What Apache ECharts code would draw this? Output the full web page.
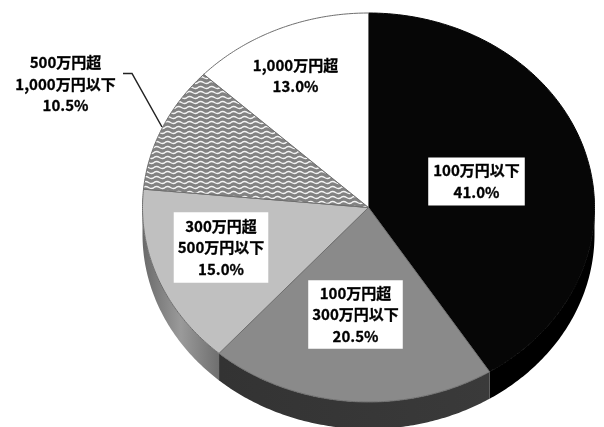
<!DOCTYPE html>
<html>
<head>
<meta charset="utf-8">
<style>html,body{margin:0;padding:0;background:#fff}#c{width:604px;height:427px}</style>
<script src="https://cdn.jsdelivr.net/npm/echarts@6/dist/echarts.min.js"></script>
</head>
<body>
<div id="c"></div>
<script>
// Data, clockwise from 12 o'clock
const categories = ['100万円以下', '100万円超\n300万円以下', '300万円超\n500万円以下', '500万円超\n1,000万円以下', '1,000万円超'];
const shares = [41.0, 20.5, 15.0, 10.5, 13.0];

// Geometry and style of the tilted pie
const cx = 368.5, cy = 207.5, rx = 226, ry = 194.5, depth = 27;
const topColors = ['#060606', '#8a8a8a', '#c0c0c0', null, '#ffffff'];
const wallColors = [
  ['#000000', '#000000'],
  ['#3a3a3a', '#333333'],
  ['#6f6f6f', '#9a9a9a', '#6a6a6a'],
  ['#888888', '#888888'],
  ['#888888', '#888888']
];
const labelCenters = [[476.5, 181.5], [355.5, 314.5], [221, 247.5], [65.5, 84], [295.5, 76]];
const labelBoxes = [[5, 2.5], [4, 2], [4, 3], [4, 2], [0, 0]];

function wavePattern() {
  const c = document.createElement('canvas');
  c.width = 11; c.height = 5;
  const g = c.getContext('2d');
  g.fillStyle = '#828282';
  g.fillRect(0, 0, 11, 5);
  g.strokeStyle = '#f4f4f4';
  g.lineWidth = 1.5;
  for (const off of [-5, 0, 5]) {
    g.beginPath();
    g.moveTo(-1, 3.2 + off);
    g.bezierCurveTo(1.5, 0.8 + off, 3, 0.8 + off, 5.5, 2.5 + off);
    g.bezierCurveTo(8, 4.2 + off, 9.5, 4.2 + off, 12, 1.8 + off);
    g.stroke();
  }
  return c;
}
const wave = { image: wavePattern(), repeat: 'repeat' };

function pointAt(angle, dy) {
  return [cx + rx * Math.sin(angle), cy + (dy || 0) - ry * Math.cos(angle)];
}
function arcPoints(a0, a1, dy) {
  const n = Math.max(2, Math.ceil(Math.abs(a1 - a0) * 90));
  const pts = [];
  for (let i = 0; i <= n; i++) pts.push(pointAt(a0 + (a1 - a0) * i / n, dy));
  return pts;
}
const total = shares.reduce((a, b) => a + b, 0);
const starts = [];
shares.reduce((acc, v, i) => { starts[i] = acc; return acc + v; }, 0);
const toAngle = v => v / total * Math.PI * 2;

function renderItem(params, api) {
  const i = params.dataIndex;
  const a0 = toAngle(api.value(1));
  const a1 = a0 + toAngle(api.value(0));
  const children = [];

  // Visible front wall: lower half of the ellipse
  const w0 = Math.max(a0, Math.PI / 2), w1 = Math.min(a1, Math.PI * 1.5);
  if (w1 > w0) {
    const upper = arcPoints(w0, w1, 0);
    const lower = arcPoints(w1, w0, depth);
    const ps = upper[0], pe = upper[upper.length - 1];
    const cols = wallColors[i];
    children.push({
      type: 'polygon',
      z2: 1,
      shape: { points: upper.concat(lower) },
      style: {
        fill: new echarts.graphic.LinearGradient(ps[0] > pe[0] ? 1 : 0, 0, ps[0] > pe[0] ? 0 : 1, 0,
          cols.map((color, k) => ({ offset: k / (cols.length - 1), color }))),
        stroke: null
      }
    });
  }
  // Top face
  children.push({
    type: 'polygon',
    z2: 2,
    shape: { points: [[cx, cy]].concat(arcPoints(a0, a1, 0)) },
    style: { fill: topColors[i] || wave, stroke: i === 0 ? '#060606' : '#6e6e6e', lineWidth: 1, lineJoin: 'round' }
  });
  // Label with white box
  const c = labelCenters[i], b = labelBoxes[i];
  children.push({
    type: 'text',
    z2: 5,
    x: c[0], y: c[1],
    style: {
      text: categories[i] + '\n' + api.value(0).toFixed(1) + '%',
      font: 'bold 15px "Noto Sans CJK JP"',
      lineHeight: 21.5,
      fill: '#000',
      stroke: '#000',
      lineWidth: 0.3,
      align: 'center',
      verticalAlign: 'middle',
      backgroundColor: '#fff',
      padding: [b[1], b[0]]
    }
  });
  return { type: 'group', children };
}

const chart = echarts.init(document.getElementById('c'), null, { renderer: 'canvas' });
chart.setOption({
  animation: false,
  backgroundColor: '#fff',
  series: [{
    type: 'custom',
    coordinateSystem: 'none',
    clip: false,
    renderItem,
    encode: { value: 0 },
    data: shares.map((v, i) => [v, starts[i]]),
    silent: true
  }],
  graphic: [{
    type: 'polyline',
    z: 10,
    shape: { points: [[123, 73.5], [132, 73.5], [162, 127]] },
    style: { stroke: '#222', lineWidth: 1.5, fill: null }
  }]
});
</script>
</body>
</html>
